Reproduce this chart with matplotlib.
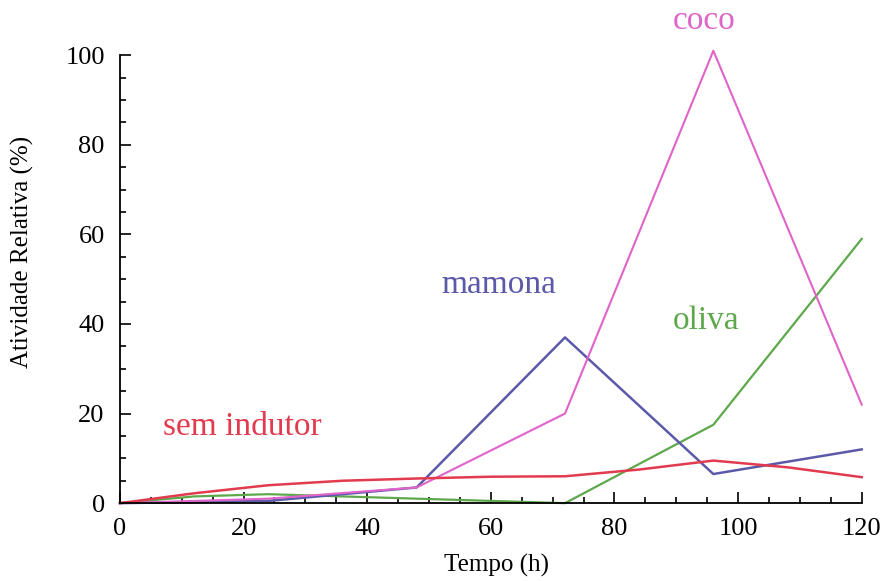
import matplotlib
matplotlib.use("Agg")
import matplotlib.pyplot as plt
from matplotlib.ticker import MultipleLocator

plt.rcParams["font.family"] = ["Liberation Serif", "DejaVu Serif"]

tempo_red = [0, 12, 24, 36, 48, 60, 72, 84, 96, 108, 120]
sem_indutor = [0, 2.2, 4.0, 5.0, 5.5, 5.9, 6.0, 7.5, 9.5, 8.0, 5.8]

tempo = [0, 24, 48, 72, 96, 120]
mamona = [0, 0.5, 3.5, 37, 6.5, 12]
coco = [0, 1.0, 3.5, 20, 101, 22]
tempo_oliva = [0, 12, 24, 36, 48, 72, 96, 120]
oliva = [0, 1.5, 2.0, 1.5, 1.0, 0, 17.5, 59]

c_red = "#e23a4e"
c_blue = "#5c5aa8"
c_pink = "#e063c9"
c_green = "#5ea84c"

fig = plt.figure(figsize=(8.82, 5.81), dpi=100)
ax = fig.add_axes([0.136, 0.134, 0.841, 0.771])

ax.plot(tempo_oliva, oliva, color=c_green, lw=1.6, clip_on=False)
ax.plot(tempo, mamona, color=c_blue, lw=1.8, clip_on=False)
ax.plot(tempo, coco, color=c_pink, lw=1.5, clip_on=False)
ax.plot(tempo_red, sem_indutor, color=c_red, lw=1.8, clip_on=False)

ax.set_xlim(0, 120)
ax.set_ylim(0, 100)
ax.xaxis.set_major_locator(MultipleLocator(20))
ax.xaxis.set_minor_locator(MultipleLocator(5))
ax.yaxis.set_major_locator(MultipleLocator(20))
ax.yaxis.set_minor_locator(MultipleLocator(5))
ax.tick_params(which="both", direction="in", width=1.2, labelsize=19)
ax.tick_params(which="major", length=8)
ax.tick_params(which="minor", length=4)
ax.tick_params(axis="x", pad=11)
ax.tick_params(axis="y", pad=11)
for s in ["top", "right"]:
    ax.spines[s].set_visible(False)
for s in ["left", "bottom"]:
    ax.spines[s].set_linewidth(1.3)

ax.set_xlabel("Tempo (h)", fontsize=18, va="center")
ax.set_ylabel("Atividade Relativa (%)", fontsize=18, va="center")
ax.xaxis.set_label_coords(0.507, -0.138)
ax.yaxis.set_label_coords(-0.132, 0.56)

ax.text(94.5, 107.6, "coco", color=c_pink, fontsize=24, ha="center", va="center")
ax.text(61.2, 48.7, "mamona", color=c_blue, fontsize=24, ha="center", va="center")
ax.text(94.8, 40.8, "oliva", color=c_green, fontsize=24, ha="center", va="center")
ax.text(19.8, 17, "sem indutor", color=c_red, fontsize=24, ha="center", va="center")

fig.savefig("out.png", dpi=100)
